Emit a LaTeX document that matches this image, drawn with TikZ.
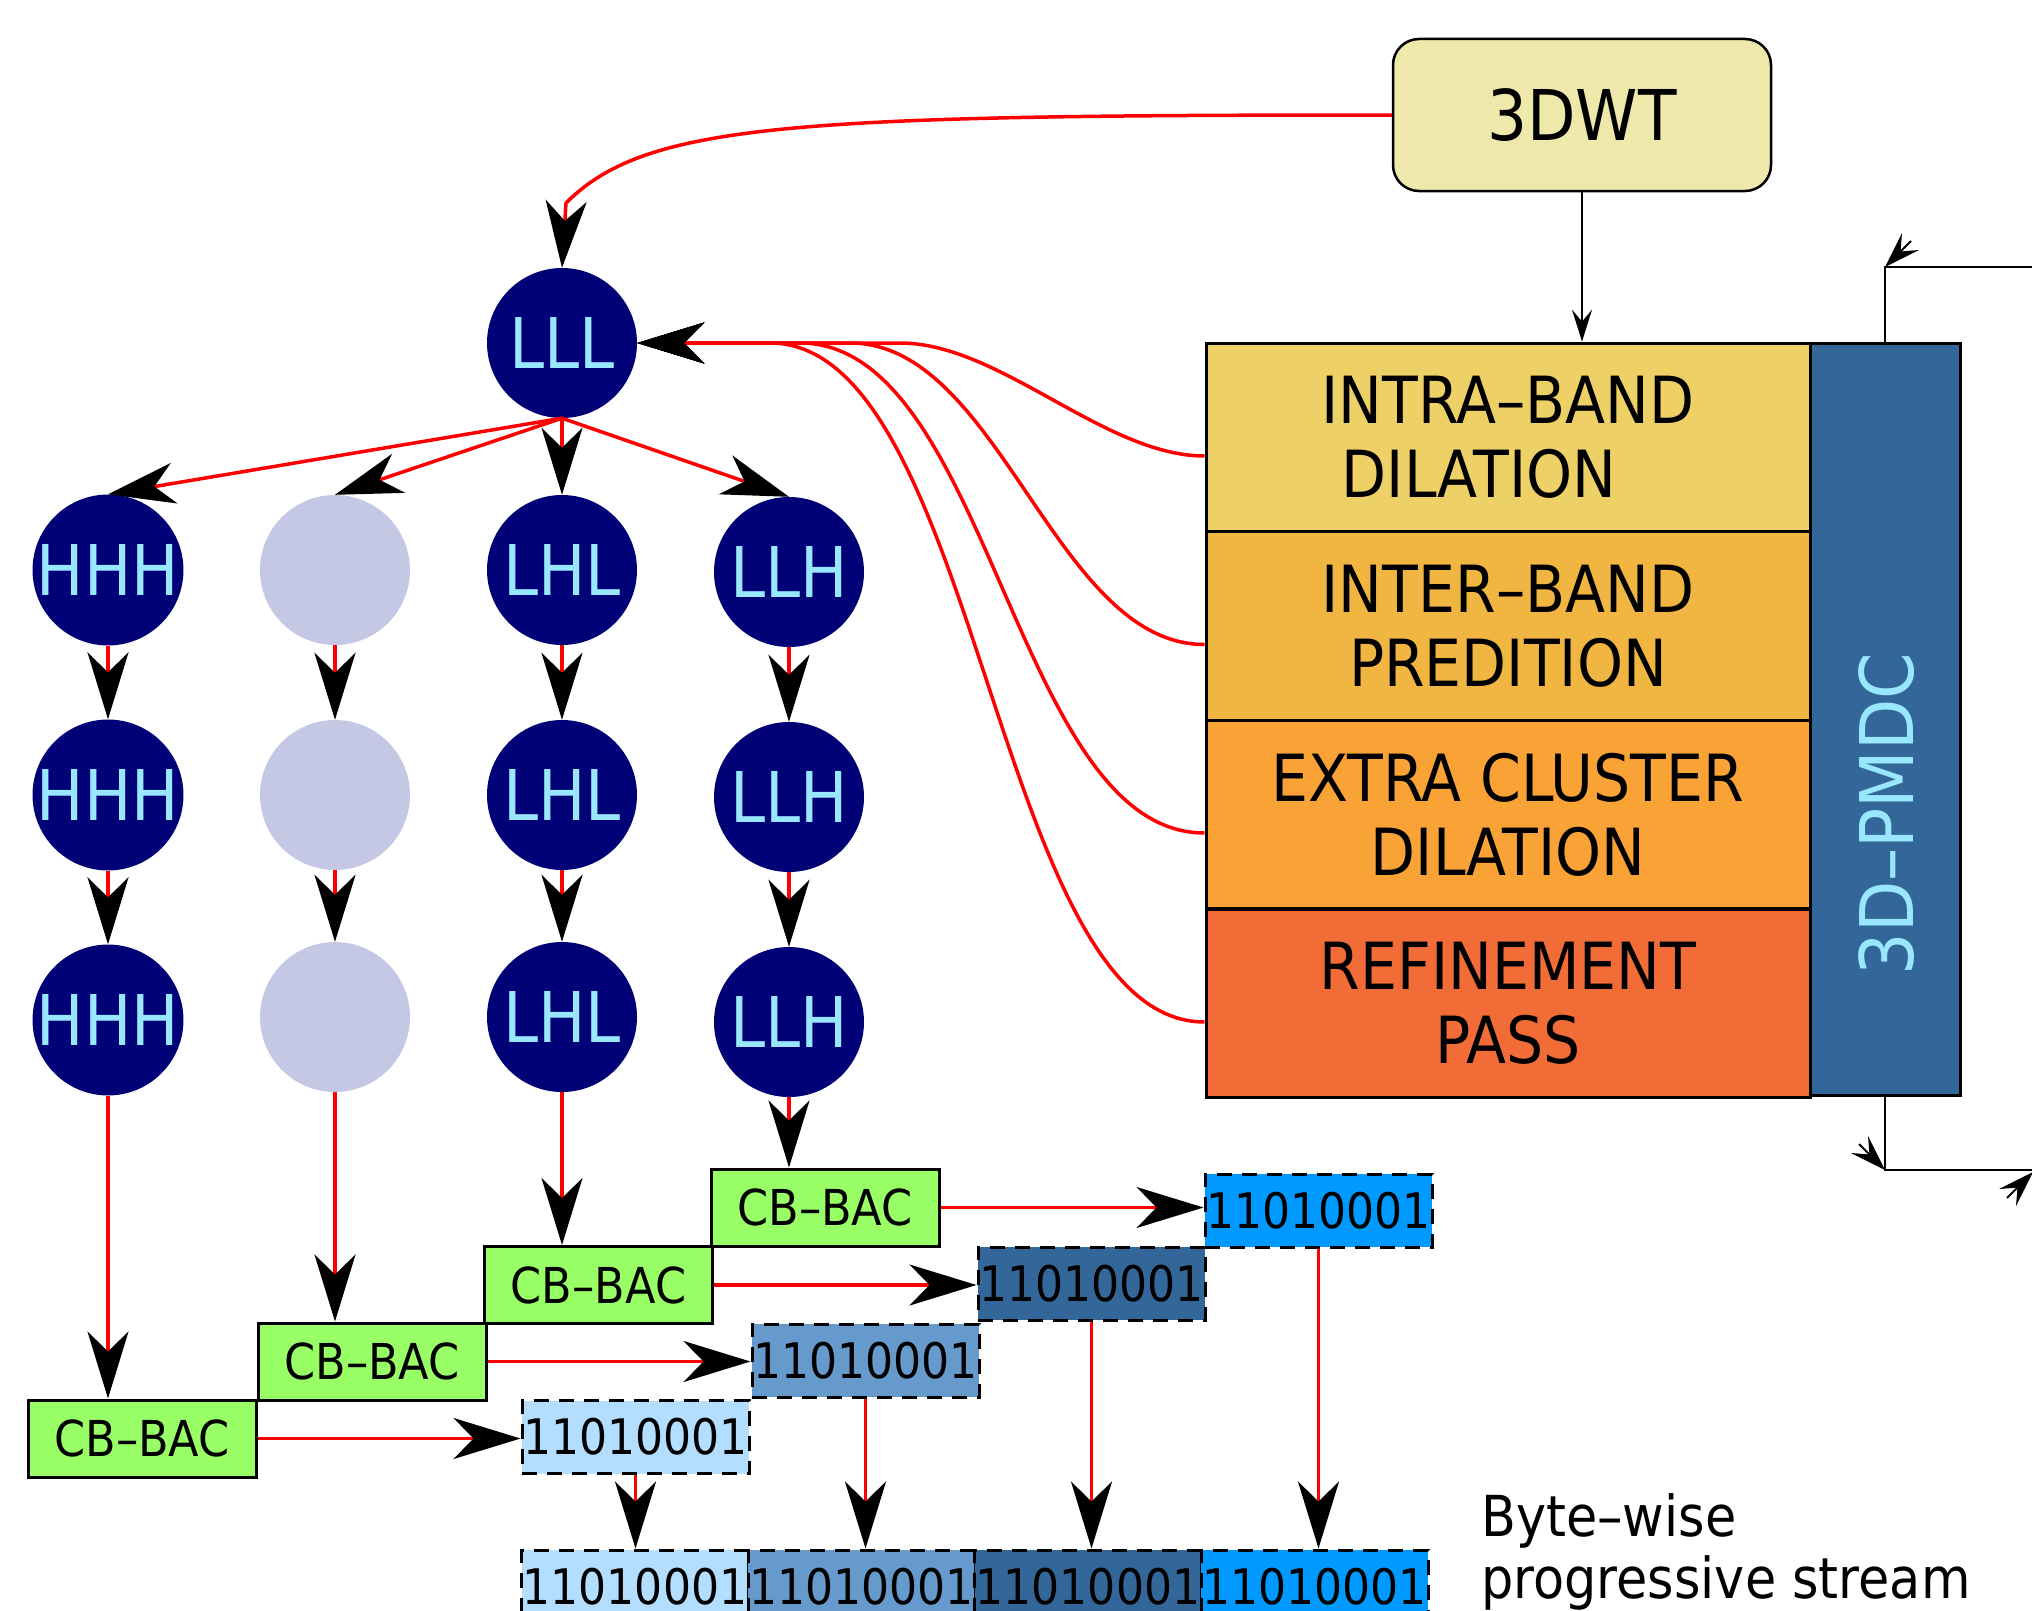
\documentclass[tikz,border=0pt]{standalone}
\usepackage{fontspec}
\setmainfont{DejaVu Sans}[FakeStretch=0.9]
\usetikzlibrary{arrows.meta,calc}
\definecolor{dwtc}{HTML}{EEE8AA}
\definecolor{cone}{HTML}{EDD066}
\definecolor{ctwo}{HTML}{F1B541}
\definecolor{cthree}{HTML}{F9A236}
\definecolor{cfour}{HTML}{F26C37}
\definecolor{pmdcc}{HTML}{336699}
\definecolor{lblue}{HTML}{99E6FF}
\definecolor{navyc}{HTML}{000077}
\definecolor{grayc}{HTML}{C4C8E4}
\definecolor{greenc}{HTML}{99FF66}
\definecolor{byteA}{HTML}{B3DEFF}
\definecolor{byteB}{HTML}{6699CC}
\definecolor{byteC}{HTML}{336699}
\definecolor{byteD}{HTML}{0099FF}
\begin{document}
\begin{tikzpicture}[x=1pt,y=-1pt,
  redarr/.style={draw=red, line width=3.5pt, -{Stealth[length=67pt,width=41pt,inset=20pt,color=black]}},
  blkarr/.style={draw=black, line width=2pt, -{Stealth[length=32pt,width=20pt,inset=12pt,color=black]}},
  cornarr/.style={draw=black, line width=2pt, -{Stealth[length=36pt,width=24pt,inset=14pt,color=black]}},
  blkline/.style={draw=black, line width=2pt},
  circ/.style={circle, minimum size=150pt, inner sep=0pt, fill=navyc, text=lblue, font=\fontsize{70}{76}\selectfont},
  ghost/.style={circle, minimum size=150pt, inner sep=0pt, fill=grayc},
  cbbox/.style={draw=black, line width=3pt, fill=greenc, minimum width=228pt, minimum height=77pt, inner sep=0pt, font=\fontsize{49.5}{54}\selectfont},
  bytebox/.style={draw=black, line width=3pt, dash pattern=on 15pt off 10pt, minimum width=227pt, minimum height=73pt, inner sep=0pt, font=\fontsize{49}{54}\selectfont},
  stackbox/.style={draw=black, line width=3pt, minimum width=604pt, minimum height=188.75pt, inner sep=0pt, align=center, font=\fontsize{65}{74}\selectfont},
  captxt/.style={anchor=base west, inner sep=0pt, font=\fontsize{56.5}{62}\selectfont},
]
\useasboundingbox (0,0) rectangle (2032,1611);
\clip (0,0) rectangle (2032,1611);

% top box
\node[draw=black, line width=2.5pt, fill=dwtc, rounded corners=26pt, minimum width=378pt, minimum height=152pt, font=\fontsize{70}{76}\selectfont] (dwt) at (1582,115) {3DWT};

% stack
\node[stackbox, fill=cone] (st1) at (1508,437.5) {INTRA–BAND\\DILATION\hspace*{58pt}};
\node[stackbox, fill=ctwo] (st2) at (1508,626) {INTER–BAND\\PREDITION};
\node[stackbox, fill=cthree] (st3) at (1508,814.5) {EXTRA CLUSTER\\DILATION};
\node[stackbox, fill=cfour] (st4) at (1508,1003.5) {REFINEMENT\\PASS};
\node[draw=black, line width=3pt, fill=pmdcc, minimum width=150pt, minimum height=752pt, inner sep=0pt] (pmdc) at (1885,719) {};
\node[rotate=90, text=lblue, font=\fontsize{74}{80}\selectfont] (pmdct) at (1887,814) {3D–PMDC};

% circles
\node[circ] (lll) at (562,343) {LLL};
\node[circ] (h1) at (108,570) {HHH};
\node[circ] (h2) at (108,795) {HHH};
\node[circ] (h3) at (108,1020) {HHH};
\node[ghost] (g1) at (335,570) {};
\node[ghost] (g2) at (335,795) {};
\node[ghost] (g3) at (335,1017) {};
\node[circ] (m1) at (562,570) {LHL};
\node[circ] (m2) at (562,795) {LHL};
\node[circ] (m3) at (562,1017) {LHL};
\node[circ] (n1) at (789,572) {LLH};
\node[circ] (n2) at (789,797) {LLH};
\node[circ] (n3) at (789,1022) {LLH};

% coders
\node[cbbox] (cb1) at (142,1438.5) {CB–BAC};
\node[cbbox] (cb2) at (372,1361.5) {CB–BAC};
\node[cbbox] (cb3) at (598.5,1285) {CB–BAC};
\node[cbbox] (cb4) at (825,1207.5) {CB–BAC};

% bytes
\node[bytebox, fill=byteA] (ba) at (635.5,1437) {11010001};
\node[bytebox, fill=byteB] (bb) at (865.5,1360.5) {11010001};
\node[bytebox, fill=byteC] (bcc) at (1091.5,1283.5) {11010001};
\node[bytebox, fill=byteD] (bd) at (1318.5,1210.5) {11010001};

% stream
\node[bytebox, fill=byteA] (sa) at (635,1586.5) {11010001};
\node[bytebox, fill=byteB] (sb) at (861.5,1586.5) {11010001};
\node[bytebox, fill=byteC] (sc) at (1088,1586.5) {11010001};
\node[bytebox, fill=byteD] (sd) at (1314.5,1586.5) {11010001};

\node[captxt] (bw1) at (1481,1536) {Byte–wise};
\node[captxt] (bw2) at (1481,1598) {progressive stream};

% coordinates
\coordinate (k) at (566,203);
\coordinate (j1) at (900,343);
\coordinate (j2) at (850,343);
\coordinate (j3) at (800,343);
\coordinate (j4) at (770,343);
\coordinate (tcorner) at (1885,267);
\coordinate (tend) at (2040,267);
\coordinate (ttail) at (1911,241);
\coordinate (bcorner) at (1885,1170);
\coordinate (bend) at (2040,1170);
\coordinate (btail) at (1859,1144);
\coordinate (rtip) at (2033,1172);
\coordinate (rtail) at (2007,1198);

% connectors
\draw[redarr] (dwt.west) .. controls +(-600,0) and +(80,-80) .. (k) -- (lll.north);
\draw[redarr] ([yshift=-18.5pt]st1.west) .. controls +(-100,0) and +(100,0) .. (j1) -- (lll.east);
\draw[redarr] ([yshift=-18.5pt]st2.west) .. controls +(-150,0) and +(150,0) .. (j2) -- (lll.east);
\draw[redarr] ([yshift=-18.5pt]st3.west) .. controls +(-190,0) and +(190,0) .. (j3) -- (lll.east);
\draw[redarr] ([yshift=-18.5pt]st4.west) .. controls +(-210,0) and +(210,0) .. (j4) -- (lll.east);

\foreach \t in {h1,g1,m1,n1} \draw[redarr] (lll.south) -- (\t.north);
\draw[redarr] (h1) -- (h2);
\draw[redarr] (h2) -- (h3);
\draw[redarr] (g1) -- (g2);
\draw[redarr] (g2) -- (g3);
\draw[redarr] (m1) -- (m2);
\draw[redarr] (m2) -- (m3);
\draw[redarr] (n1) -- (n2);
\draw[redarr] (n2) -- (n3);

\draw[redarr] (h3.south) -- (h3.south |- cb1.north);
\draw[redarr] (g3.south) -- (g3.south |- cb2.north);
\draw[redarr] (m3.south) -- (m3.south |- cb3.north);
\draw[redarr] (n3.south) -- (n3.south |- cb4.north);

\draw[redarr] (cb1.east) -- (cb1.east -| ba.west);
\draw[redarr] (cb2.east) -- (cb2.east -| bb.west);
\draw[redarr] (cb3.east) -- (cb3.east -| bcc.west);
\draw[redarr] (cb4.east) -- (cb4.east -| bd.west);

\draw[redarr] (ba.south) -- (ba.south |- sa.north);
\draw[redarr] (bb.south) -- (bb.south |- sb.north);
\draw[redarr] (bcc.south) -- (bcc.south |- sc.north);
\draw[redarr] (bd.south) -- (bd.south |- sd.north);

\draw[blkarr] (dwt.south) -- (dwt.south |- st1.north);
\draw[blkline] (pmdc.north) -- (tcorner) -- (tend);
\draw[blkline] (pmdc.south) -- (bcorner) -- (bend);
\draw[cornarr] (ttail) -- (tcorner);
\draw[cornarr] (btail) -- (bcorner);
\draw[cornarr] (rtail) -- (rtip);
\end{tikzpicture}
\end{document}
